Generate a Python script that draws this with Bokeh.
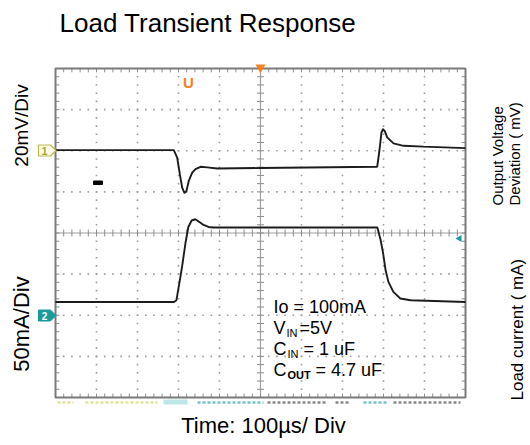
from bokeh.plotting import figure
from bokeh.models import Range1d, Label
from bokeh.embed import file_html
from bokeh.resources import INLINE

# ---------------- data ----------------
ch1_time_us = [0, 288.5, 296.8, 303.2, 309.0, 314.6, 319.5, 325.1, 333.4, 341.5, 353.7,
               370.0, 394.4, 500, 784.6, 790, 795, 799, 803.7, 809, 824.4, 848.8, 897.6, 1000]
ch1_dev_mv = [0.3, 0.3, -3.3, -11.4, -17.9, -20.6, -19.5, -14.6, -10.6, -8.9, -7.8,
              -8.1, -8.6, -8.4, -7.8, 0.0, 8.8, 10.6, 9.3, 6.5, 3.6, 2.4, 2.0, 1.3]

ch2_time_us = [0, 289, 295, 300, 305, 310, 317, 324, 332, 341, 351, 361, 373, 385,
               785, 793, 799, 805, 812, 824, 841, 866, 1000]
ch2_load_ma = [16.2, 16.2, 18.3, 32.9, 47.6, 63.4, 87.8, 107.3, 115.2, 116.7, 113.4, 109.8, 107.3, 106.7,
               106.7, 91.5, 75.6, 54.9, 40.6, 28.4, 20.4, 18.3, 16.2]

title_text = "Load Transient Response"
ch1_scale_text = "20mV/Div"
ch2_scale_text = "50mA/Div"
ch1_axis_text = ["Output Voltage", "Deviation ( mV)"]
ch2_axis_text = "Load current ( mA)"
time_text = "Time: 100µs/ Div"

US_PER_DIV = 100
MV_PER_DIV = 20
MA_PER_DIV = 50
N_XDIV, N_YDIV = 10, 8
CH1_GND_DIV = 6
CH2_GND_DIV = 2

# ---------------- layout ----------------
W, H = 530, 445
OFF = 0
GL, GR, GT, GB = 55, 465, 68, 397          # scope grid edges in page pixels
PXX = (GR - GL) / N_XDIV
PXY = (GB - GT) / N_YDIV


def X(px):
    return (px - GL) / PXX * US_PER_DIV


def Y(py):
    return (GB - py) / PXY


x0, x1 = X(OFF), X(OFF + W)
y0, y1 = Y(OFF + H), Y(OFF)

p = figure(width=W, height=H, x_range=Range1d(x0, x1), y_range=Range1d(y0, y1),
           x_axis_type=None, y_axis_type=None, min_border=0,
           output_backend="svg", toolbar_location=None, title=None)
p.outline_line_color = None
p.background_fill_color = "white"
p.border_fill_color = "white"
p.extra_y_ranges = {
    "mv": Range1d((y0 - CH1_GND_DIV) * MV_PER_DIV, (y1 - CH1_GND_DIV) * MV_PER_DIV),
    "ma": Range1d((y0 - CH2_GND_DIV) * MA_PER_DIV, (y1 - CH2_GND_DIV) * MA_PER_DIV),
}

XMAX = N_XDIV * US_PER_DIV
GRID_C = "#9c9c9c"

# dotted graticule
dx, dy = [], []
for i in range(1, N_XDIV):
    if i == N_XDIV // 2:
        continue
    for k in range(1, N_YDIV * 5):
        dx.append(i * US_PER_DIV)
        dy.append(k * 0.2)
for j in range(1, N_YDIV):
    if j == N_YDIV // 2:
        continue
    for k in range(1, N_XDIV * 5):
        dx.append(k * US_PER_DIV / 5)
        dy.append(j)
p.scatter(dx, dy, marker="square", size=1.6, color=GRID_C, line_color=None)

# centre cross
p.segment(x0=[XMAX / 2, 0], y0=[0, N_YDIV / 2], x1=[XMAX / 2, XMAX], y1=[N_YDIV, N_YDIV / 2],
          line_color="#a0a0a0", line_width=1.2)

# ticks on centre cross and frame edges
tx = 3.5 / PXX * US_PER_DIV
ty = 3.5 / PXY
sx0, sy0, sx1, sy1 = [], [], [], []
for k in range(1, N_XDIV * 5):
    xv = k * US_PER_DIV / 5
    sx0 += [xv, xv, xv]
    sx1 += [xv, xv, xv]
    sy0 += [N_YDIV / 2 - ty, N_YDIV, 0]
    sy1 += [N_YDIV / 2 + ty, N_YDIV - ty * 1.1, ty * 1.1]
for k in range(1, N_YDIV * 5):
    yv = k * 0.2
    sy0 += [yv, yv, yv]
    sy1 += [yv, yv, yv]
    sx0 += [XMAX / 2 - tx, 0, XMAX]
    sx1 += [XMAX / 2 + tx, tx * 1.1, XMAX - tx * 1.1]
p.segment(x0=sx0, y0=sy0, x1=sx1, y1=sy1, line_color="#8c8c8c", line_width=1)

# frame border
p.quad(left=[0], right=[XMAX], bottom=[0], top=[N_YDIV], fill_color=None,
       line_color="#7a7a7a", line_width=2)

# cut-off scope readout strip under the graticule
strip_px = [(57, 73, "#d4d46a"), (85, 157, "#d4d46a"), (197, 263, "#3aa9ab"),
            (267, 327, "#555555"), (335, 350, "#555555"), (363, 387, "#3aa9ab"),
            (393, 460, "#555555")]
p.segment(x0=[X(a) for a, b, c in strip_px], x1=[X(b) for a, b, c in strip_px],
          y0=[Y(402)] * len(strip_px), y1=[Y(402)] * len(strip_px),
          line_color=[c for a, b, c in strip_px], line_width=2.5, line_dash="3 2", line_alpha=0.7)
p.quad(left=[X(163)], right=[X(187)], bottom=[Y(404)], top=[Y(399)],
       fill_color="#bfe6e6", line_color=None)

# traces
p.line(ch1_time_us, ch1_dev_mv, y_range_name="mv", line_color="#1c1c1c", line_width=1.9)
p.line(ch2_time_us, ch2_load_ma, y_range_name="ma", line_color="#1c1c1c", line_width=1.9)

# scope markers
def pent(cy):
    xs = [X(38), X(50), X(55.5), X(50), X(38)]
    ys = [Y(cy - 5.5), Y(cy - 5.5), Y(cy), Y(cy + 5.5), Y(cy + 5.5)]
    return xs, ys

xs, ys = pent(150)
p.patch(xs, ys, fill_color="#fdfde8", line_color="#b9b94e", line_width=1.2)
xs, ys = pent(315)
p.patch(xs, ys, fill_color="#1b9a9c", line_color="#1b9a9c", line_width=1)

p.scatter([XMAX / 2], [Y(67)], marker="inverted_triangle", size=10, color="#f58220", line_color=None)
p.scatter([X(459)], [Y(238)], marker="triangle", angle=1.5708, size=7, color="#1b9a9c", line_color=None)
p.quad(left=[X(93)], right=[X(102)], bottom=[Y(184)], top=[Y(180.5)], color="black")

FONT = "Liberation Sans"


def lab(text, px, py, size, align="left", baseline="alphabetic", angle=0,
        color="black", style="normal"):
    if baseline == "alphabetic":
        py = py - 0.32 * size
    p.add_layout(Label(x=X(px), y=Y(py), text=text, text_font=FONT,
                       text_font_size=f"{size}px", text_align=align,
                       text_baseline=baseline, angle=angle, angle_units="deg",
                       text_color=color, text_font_style=style))


lab("1", 44, 150.5, 11, align="center", baseline="middle", color="#a6a63c", style="bold")
lab("2", 44, 315.5, 10, align="center", baseline="middle", color="white", style="bold")
lab("U", 188, 82, 15, align="center", baseline="middle", color="#f58220", style="bold")

# titles / labels
lab(title_text, 59, 31, 26)
lab(time_text, 263, 432, 22, align="center")
lab(ch1_scale_text, 21, 125, 19, align="center", baseline="middle", angle=90)
lab(ch2_scale_text, 21, 323.5, 22, align="center", baseline="middle", angle=90)
lab(ch1_axis_text[0], 497, 205, 15, baseline="middle", angle=90)
lab(ch1_axis_text[1], 514, 205, 15, baseline="middle", angle=90)
lab(ch2_axis_text, 517, 400, 17, baseline="middle", angle=90)

# test conditions
lab("Io = 100mA", 273, 312, 18)
lab("V", 273, 333, 18)
lab("IN", 286, 336, 11)
lab("=5V", 299, 333, 18)
lab("C", 273, 354, 18)
lab("IN", 287, 357, 11)
lab("= 1 uF", 303, 354, 18)
lab("C", 273, 375, 18)
lab("OUT", 287, 378, 11, style="bold")
lab("= 4.7 uF", 315, 375, 18)

open("out.html", "w").write(file_html(p, INLINE))
